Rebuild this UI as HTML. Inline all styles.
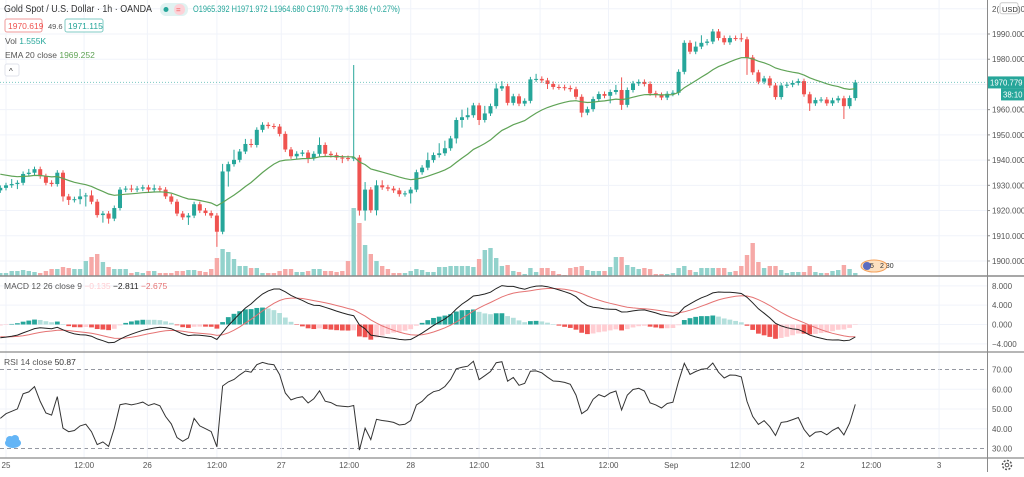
<!DOCTYPE html>
<html><head><meta charset="utf-8">
<style>
html,body{margin:0;padding:0;background:#fff;}
body{width:1024px;height:472px;overflow:hidden;font-family:"Liberation Sans",sans-serif;}
svg text{font-family:"Liberation Sans",sans-serif;}
</style></head>
<body>
<svg id="chart" width="1024" height="472" viewBox="0 0 1024 472" xmlns="http://www.w3.org/2000/svg">
<g id="grid"></g>
<g id="vol"></g>
<g id="candles"></g>
<path id="ema" fill="none" stroke="#5fa356" stroke-width="1.2"/>
<g id="macd"></g>
<g id="rsi"></g>
<g id="axes"></g>

<g>
<text x="4" y="12" font-size="10" fill="#333" textLength="148" lengthAdjust="spacingAndGlyphs">Gold Spot / U.S. Dollar · 1h · OANDA</text>
<rect x="160" y="3" width="28" height="13" rx="6" fill="#e0f2f1"/>
<circle cx="166" cy="9.5" r="2.5" fill="#26a69a"/>
<rect x="174" y="4" width="11" height="11" rx="5" fill="#fcd2d8"/>
<text x="176" y="12.5" font-size="8" fill="#ef5350">=</text>
<text x="193" y="12" font-size="9" fill="#26a69a" textLength="207" lengthAdjust="spacingAndGlyphs">O1965.392 H1971.972 L1964.680 C1970.779 +5.386 (+0.27%)</text>
<rect x="5" y="19" width="37" height="13" rx="2" fill="#fff" stroke="#ef9a9a"/>
<text x="8" y="29" font-size="8.5" fill="#ef5350">1970.619</text>
<text x="48" y="29" font-size="7.5" fill="#555">49.6</text>
<rect x="65" y="19" width="38" height="13" rx="2" fill="#fff" stroke="#80cbc4"/>
<text x="68" y="29" font-size="8.5" fill="#26a69a">1971.115</text>
<text x="5" y="44" font-size="8.5" fill="#555">Vol <tspan fill="#26a69a">1.555K</tspan></text>
<text x="5" y="58" font-size="8.5" fill="#555">EMA 20 close <tspan fill="#5fa356">1969.252</tspan></text>
<rect x="5" y="64" width="14" height="12" rx="2" fill="#fff" stroke="#e0e3eb"/>
<text x="9" y="74" font-size="8" fill="#333">^</text>
</g>
<text x="4" y="289" font-size="8.5" fill="#555">MACD 12 26 close 9 <tspan fill="#ffcdd2">−0.135</tspan> <tspan fill="#222">−2.811</tspan> <tspan fill="#e57373">−2.675</tspan></text>
<text x="4" y="365" font-size="8.5" fill="#555">RSI 14 close <tspan fill="#333">50.87</tspan></text>
<g><ellipse cx="13" cy="443" rx="8" ry="5" fill="#64b5f6"/><circle cx="10" cy="440" r="4" fill="#64b5f6"/><circle cx="15" cy="439" r="4" fill="#64b5f6"/></g>
<g><ellipse cx="874" cy="266" rx="13" ry="6" fill="#fde0c0" stroke="#f5a25d"/><circle cx="867" cy="266" r="4" fill="#5c6bc0"/><text x="870" y="268" font-size="7" fill="#333">5</text><text x="880" y="268" font-size="7" fill="#333">2 30</text></g>
<g><circle cx="1007" cy="465" r="4.5" fill="none" stroke="#555" stroke-width="1.5" stroke-dasharray="2 1.5"/><circle cx="1007" cy="465" r="1.8" fill="none" stroke="#555"/></g>
</svg>
<script>
const closes=[1929,1930,1930.5,1931,1934.5,1935,1936.4,1933.6,1931,1930.5,1935,1925.6,1924.2,1924.5,1925.6,1926,1923.5,1918.2,1918.8,1916.8,1921,1928.3,1928.7,1928.3,1928.7,1929.2,1928.3,1928.8,1928.3,1925.6,1923.5,1918.8,1917.3,1918,1922.5,1920,1919,1918,1911.6,1935.5,1938.4,1940.1,1943.4,1946.4,1946,1952,1954,1953.5,1953.3,1950.4,1944.2,1941.5,1942.5,1943,1940.8,1942.5,1946,1942.5,1942,1941,1940.8,1940.6,1941,1920,1928.3,1920.1,1930,1929.2,1928.7,1928,1926.5,1926.8,1928.3,1935.2,1937,1940,1942,1942.7,1944.7,1948.6,1955.9,1957,1957.8,1961.7,1955.9,1958.5,1961.4,1968.4,1969.3,1962.7,1965.3,1962.4,1963.5,1972,1972.2,1971.6,1970.2,1969,1968.9,1968.6,1968.1,1965.1,1958.8,1960.2,1964.2,1966.2,1965.5,1967,1967.8,1961.9,1967.8,1970.4,1971,1970.2,1966.5,1965.8,1964.8,1966.3,1966.7,1975,1986.5,1983,1985,1986.5,1987,1991,1988.4,1986.7,1988.4,1988.3,1987.9,1980.7,1974.8,1971.1,1972.4,1969.6,1965,1969.6,1969.9,1970.6,1971.3,1966.1,1962.5,1963.8,1964,1962.5,1963.7,1964.5,1961.4,1964.6,1970.8];
const firstOpen=1928;
const wickUp=[1,1,2,1,1,1.5,1,1,1,1,1,1,1,1,3,1,2,1,1,1,1,1,1,1.5,1,1,1,1.5,1,1,1,1,1,1,1,1,1,1,1,3,1,4,1,2,2,1,1,1,1,1,1,1,1,1,1,1,3,1,1,1,1,1,36.7,1,3,1,2,2,1,1,1,1,1,1,1,3,1,4,3,1,1,3,3,1,1,3,1,2,2,1,1,1,1,1,2,1,1,1,1,1,1,1,1,1,1,1,1,1,2,5,1,1,1,1,1,1,1,1,1,1,1,1,2,3,1,1,1,1,1,1,2,1,1,1,1,1,1,1,1,1,1,1,1,1,1,1,1,1,1];
const wickDn=[1,1,1,2,1,1,1,1,1,1,1,2,2,1,2,4,1,1,3,2,1,1,1,1,1,1,1,1,1,1,1,1,1,3,1,1,1,1,6,1,6,1,1,1,1,1,1,1,1,1,1,1,1,1,2,1,1,1,1,1,2,1,1,2,4,1,2,1,1,1,1,1,4,1,1,1,1,1,1,1,2,3,1,1,2,1,1,1,1,1,1,1,1,1,1,1,2,1,1,1,1,1,1.8,1,1,1,1,3,1,2,1,1,1,1,1,1,1,1,1,1,1,1,1,1,1,1,1,1,1,1,1,6.9,1,1,1,1,1,1,1,1,1,1,3,1,1,1,1,1,5.1,1,1];
const vols=[3,3,5,5,6,5,4,3,5,7,7,9,8,7,7,15,19,22,14,9,7,7,7,3,4,3,5,5,3,3,3,5,5,6,6,5,4,7,18,27,24,17,10,10,8,8,3,3,3,5,7,7,4,4,5,7,7,5,5,4,5,15,68,53,31,22,15,10,7,3,3,3,5,7,6,4,4,9,9,10,10,10,10,9,17,26,28,18,10,11,5,4,2,8,4,8,8,5,2,1,8,9,10,6,5,5,5,9,19,19,11,9,7,8,7,2,2,2,3,8,10,6,4,8,8,8,8,8,4,5,10,21,33,14,8,10,10,6,3,4,4,4,10,4,3,3,5,6,11,7,3];
const priceTicks=[1990,1980,1970,1960,1950,1940,1930,1920,1910,1900];
const macdTicks=[8,4,0,-4];
const rsiTicks=[70,60,50,40,30];
const timeLabels=["25","12:00","26","12:00","27","12:00","28","12:00","31","12:00","Sep","12:00","2","12:00","3"];
const timeIdx=[1,14.7,25.8,38,49.3,61.2,72,84,94.7,106.7,117.7,129.8,140.7,152.8,164.7];

const NS="http://www.w3.org/2000/svg";
const X=i=>0.3+i*5.7;
const yP=p=>34+(1990-p)*2.522;
const yM=m=>324.5-m*4.83;
const yR=r=>409-(r-50)*1.975;
function mk(tag,attrs,parent){const e=document.createElementNS(NS,tag);for(const k in attrs)e.setAttribute(k,attrs[k]);parent.appendChild(e);return e;}
const grid=document.getElementById('grid'),axes=document.getElementById('axes');
const N=closes.length;
const opens=closes.map((c,i)=>i===0?firstOpen:closes[i-1]);

priceTicks.forEach(p=>{const l=mk('line',{x1:0,x2:987,y1:yP(p),y2:yP(p),stroke:'#f0f3fa'},grid);

});
mk('line',{x1:0,x2:987,y1:yP(2000),y2:yP(2000),stroke:'#f0f3fa'},grid);
macdTicks.forEach(m=>{const l=mk('line',{x1:0,x2:987,y1:yM(m),y2:yM(m),stroke:'#f0f3fa'},grid);

});
rsiTicks.forEach(r=>{const l=mk('line',{x1:0,x2:987,y1:yR(r),y2:yR(r),stroke:(r===70||r===30)?'#9598a1':'#f0f3fa','stroke-dasharray':(r===70||r===30)?'4 3':'none'},grid);

});
timeIdx.forEach(t=>{const l=mk('line',{x1:X(t),x2:X(t),y1:0,y2:458,stroke:'#f0f3fa'},grid);

});

const vg=document.getElementById('vol');const maxV=Math.max(...vols);
vols.forEach((v,i)=>{const h=v/maxV*68;const up=closes[i]>=opens[i];
const r=mk('rect',{x:X(i)-2.2,y:276-h,width:4.4,height:h,fill:up?'#92d2cc':'#f6a9a7'},vg);

});

const cg=document.getElementById('candles');
closes.forEach((c,i)=>{const o=opens[i];const up=c>=o;const col=up?'#26a69a':'#ef5350';
const wu=(wickUp[i]!==undefined)?wickUp[i]:1, wd=(wickDn[i]!==undefined)?wickDn[i]:1;
const hi=Math.max(o,c)+wu,lo=Math.min(o,c)-wd;
const w=mk('line',{x1:X(i),x2:X(i),y1:yP(hi),y2:yP(lo),stroke:col,'stroke-width':1},cg);


const t=Math.min(yP(o),yP(c));const h=Math.max(1,Math.abs(yP(o)-yP(c)));
const b=mk('rect',{x:X(i)-2,y:t,width:4,height:h,fill:col},cg);

});

let e=1935;const ema=[];closes.forEach(c=>{e=e+(c-e)*2/21;ema.push(e);});
document.getElementById('ema').setAttribute('d',ema.map((v,i)=>(i?'L':'M')+X(i).toFixed(1)+' '+yP(v).toFixed(1)).join(''));

const pl=mk('line',{x1:0,x2:987,y1:yP(closes[N-1]),y2:yP(closes[N-1]),stroke:'#26a69a','stroke-dasharray':'1 2','stroke-opacity':0.6},axes);



let e12=1931,e26=1933.8,sig=-2.5;const mL=[],sL=[],hL=[];
closes.forEach(c=>{e12+= (c-e12)*2/13;e26+=(c-e26)*2/27;const m=e12-e26;sig+=(m-sig)*2/10;mL.push(m);sL.push(sig);hL.push(m-sig);});
const mg=document.getElementById('macd');
hL.forEach((h,i)=>{const prev=i?hL[i-1]:h;let col;
if(h>=0)col=h>=prev?'#26a69a':'#b2dfdb';else col=h<prev?'#ef5350':'#ffcdd2';
const y0=yM(0),y1=yM(h);
const r=mk('rect',{x:X(i)-2.4,y:Math.min(y0,y1),width:4.8,height:Math.max(0.5,Math.abs(y1-y0)),fill:col},mg);

});
const sp=mk('path',{d:sL.map((v,i)=>(i?'L':'M')+X(i).toFixed(1)+' '+yM(v).toFixed(1)).join(''),fill:'none',stroke:'#e57373','stroke-width':1},mg);


const mp=mk('path',{d:mL.map((v,i)=>(i?'L':'M')+X(i).toFixed(1)+' '+yM(v).toFixed(1)).join(''),fill:'none',stroke:'#222','stroke-width':1},mg);



let ag=0.75,al=1.0;const rL=[];
closes.forEach((c,i)=>{const d=c-opens[i];ag=(ag*13+Math.max(d,0))/14;al=(al*13+Math.max(-d,0))/14;rL.push(100-100/(1+ag/al));});
const rg=document.getElementById('rsi');
const rp=mk('path',{d:rL.map((v,i)=>(i?'L':'M')+X(i).toFixed(1)+' '+yR(v).toFixed(1)).join(''),fill:'none',stroke:'#333','stroke-width':1},rg);



[[276,1.5],[352,1.2],[458,1.2]].forEach(([y,w])=>{const l=mk('line',{x1:0,x2:1024,y1:y,y2:y,stroke:'#8a8a8a','stroke-width':w},axes);

});
const ax=mk('line',{x1:987.5,x2:987.5,y1:0,y2:472,stroke:'#8a8a8a'},axes);


function lab(txt,x,y,name,anchor,col,fs){const t=mk('text',{x:x,y:y,'font-size':fs||8,fill:col||'#555','text-anchor':anchor||'start'},axes);t.textContent=txt;

return t;}
priceTicks.forEach(p=>{lab(p.toFixed(3),992,yP(p)+3,'price-tick-label');mk('line',{x1:987,x2:990,y1:yP(p),y2:yP(p),stroke:'#8a8a8a'},axes);});
lab('2(',992,yP(2000)+3,'price-tick-label');
mk('rect',{x:1000,y:yP(2000)-6,width:18,height:11,fill:'#fff',stroke:'#ccc',rx:2},axes);
lab('USD',1002,yP(2000)+3,'currency-label','start','#333',7.5);
lab(')0',1018,yP(2000)+3,'price-tick-label');
macdTicks.forEach(m=>lab((m<0?'−':'')+Math.abs(m).toFixed(3),992,yM(m)+3,'macd-tick-label'));
rsiTicks.forEach(r=>lab(r.toFixed(2),992,yR(r)+3,'rsi-tick-label'));
timeLabels.forEach((t,i)=>lab(t,X(timeIdx[i]),468,'time-tick-label','middle'));
const pt=mk('rect',{x:988,y:yP(closes[N-1])-6,width:36,height:12,fill:'#26a69a'},axes);


lab(closes[N-1]===1970.8?'1970.779':closes[N-1].toFixed(3),990,yP(closes[N-1])+3,'last-price-text','start','#fff',7.8);
mk('rect',{x:1001,y:yP(closes[N-1])+6,width:23,height:12,fill:'#26a69a'},axes);
lab('38:10',1003,yP(closes[N-1])+15,'bar-countdown','start','#fff',7.8);
</script>
</body></html>
